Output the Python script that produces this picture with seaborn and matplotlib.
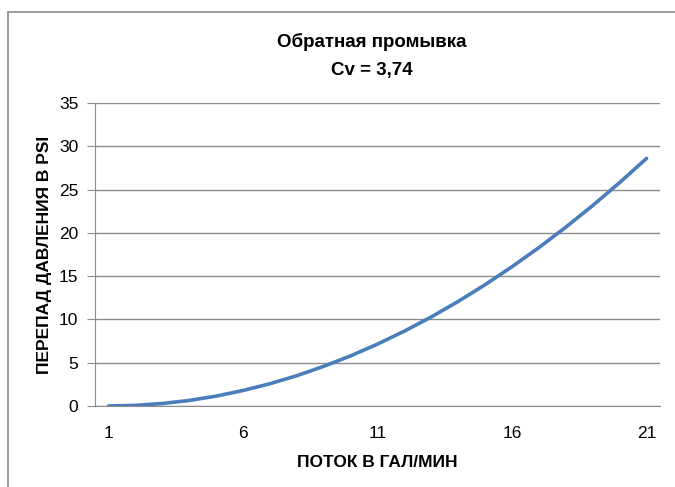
import seaborn as sns
import pandas as pd
import matplotlib.pyplot as plt
from matplotlib.lines import Line2D

# Data
flow = list(range(1, 22))
pressure_drop = [0.0, 0.07, 0.29, 0.64, 1.14, 1.79, 2.57, 3.50, 4.58, 5.79, 7.15,
                 8.65, 10.29, 12.08, 14.01, 16.09, 18.30, 20.66, 23.16, 25.81, 28.60]
x_ticks = [1, 6, 11, 16, 21]
y_ticks = [0, 5, 10, 15, 20, 25, 30, 35]

df = pd.DataFrame({'flow': flow, 'dp': pressure_drop})

sns.set_style('white')
plt.rcParams['font.family'] = ['Liberation Sans', 'DejaVu Sans']
plt.rcParams['text.color'] = 'black'
plt.rcParams['axes.labelcolor'] = 'black'
plt.rcParams['xtick.color'] = 'black'
plt.rcParams['ytick.color'] = 'black'

W, H = 675, 487
fig = plt.figure(figsize=(W / 100, H / 100), dpi=100)
ax = fig.add_axes([95 / W, 1 - 406 / H, (660 - 95) / W, (406 - 103) / H])

sns.lineplot(data=df, x='flow', y='dp', ax=ax, color='#4A7EBB', linewidth=2.6)

grid_c = '#8c8c8c'
ax.set_xlim(0.5, 21.5)
ax.set_ylim(0, 35)
ax.set_yticks(y_ticks)
ax.set_xticks(x_ticks)
ax.set_xticklabels([str(t) for t in x_ticks], fontsize=12.5)
ax.set_yticklabels([str(t) for t in y_ticks], fontsize=12.5)
ax.yaxis.grid(True, color=grid_c, linewidth=1)
ax.xaxis.grid(False)
for s in ['top', 'right']:
    ax.spines[s].set_visible(False)
ax.spines['left'].set_color(grid_c)
ax.spines['bottom'].set_color(grid_c)
ax.tick_params(axis='y', left=True, length=6, color=grid_c, pad=6)
ax.tick_params(axis='x', bottom=False, pad=11)

ax.set_xlabel('ПОТОК В ГАЛ/МИН', fontsize=12.5, fontweight='bold', labelpad=10)
ax.set_ylabel('ПЕРЕПАД ДАВЛЕНИЯ В PSI', fontsize=12.5, fontweight='bold', labelpad=5)

fig.text(372 / W, 1 - 42 / H, 'Обратная промывка', ha='center', va='center',
         fontsize=13.5, fontweight='bold')
fig.text(372 / W, 1 - 70 / H, 'Cv = 3,74', ha='center', va='center',
         fontsize=13.5, fontweight='bold')

# chart area border
fig.add_artist(Line2D([8 / W, 8 / W], [0, 1 - 12 / H], color=grid_c, linewidth=1.2))
fig.add_artist(Line2D([8 / W, 1], [1 - 12 / H, 1 - 12 / H], color=grid_c, linewidth=1.2))

fig.savefig('out.png', dpi=100)
